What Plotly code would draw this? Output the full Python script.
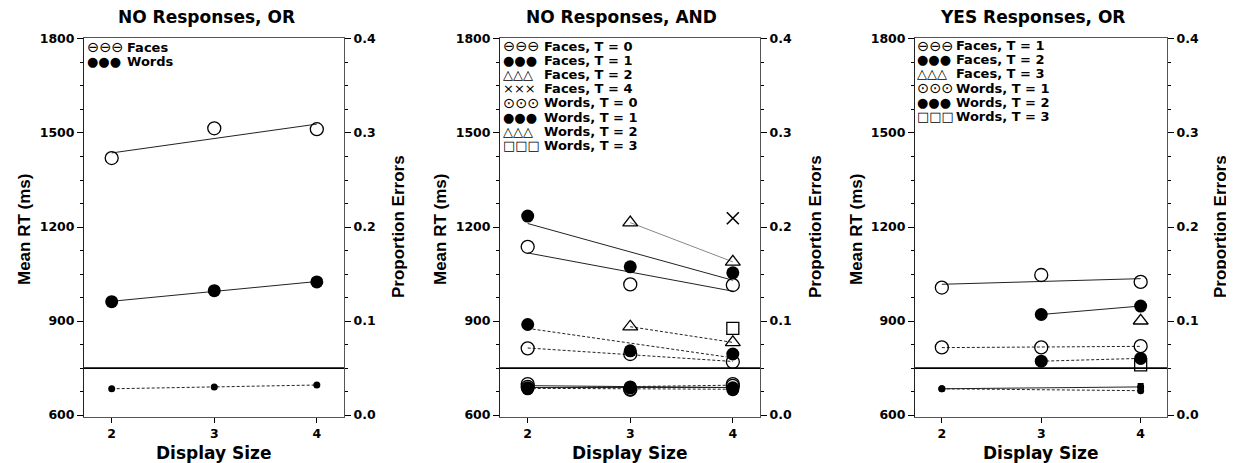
import numpy as np
import plotly.graph_objects as go

FONT = "DejaVu Sans"
FONT2 = "Liberation Sans"
W, H = 1234, 463          # browser window
OFF = 8                   # default page (body) margin of the html page
W_FIG, H_FIG = W - OFF, H - OFF

# ---------------- data ----------------
panel_titles = ["NO Responses, OR", "NO Responses, AND", "YES Responses, OR"]
x_title = "Display Size"
y_title_left = "Mean RT (ms)"
y_title_right = "Proportion Errors"
x_ticks = [2, 3, 4]
rt_ticks = [600, 900, 1200, 1500, 1800]
err_ticks = [0.0, 0.1, 0.2, 0.3, 0.4]
separator_rt = 750

# Panel 1: NO Responses, OR
p1_faces_x = [2, 3, 4]
p1_faces_rt = [1420, 1515, 1512]
p1_words_x = [2, 3, 4]
p1_words_rt = [962, 997, 1025]
p1_err_x = [2, 3, 4]
p1_err = [0.028, 0.030, 0.032]

# Panel 2: NO Responses, AND
p2_faces_t0_x = [2, 3, 4]
p2_faces_t0_rt = [1137, 1017, 1015]
p2_faces_t1_x = [2, 3, 4]
p2_faces_t1_rt = [1235, 1073, 1054]
p2_faces_t2_x = [3, 4]
p2_faces_t2_rt = [1214, 1089]
p2_faces_t4_x = [4]
p2_faces_t4_rt = [1228]
p2_words_t0_x = [2, 3, 4]
p2_words_t0_rt = [813, 795, 770]
p2_words_t1_x = [2, 3, 4]
p2_words_t1_rt = [889, 805, 795]
p2_words_t2_x = [3, 4]
p2_words_t2_rt = [882, 832]
p2_words_t3_x = [4]
p2_words_t3_rt = [877]
p2_faces_t0_err = [0.033, 0.027, 0.031]
p2_faces_t1_err = [0.029, 0.030, 0.029]
p2_words_t0_err = [0.030, 0.028, 0.033]
p2_words_t1_err = [0.028, 0.029, 0.027]

# Panel 3: YES Responses, OR
p3_faces_t1_x = [2, 3, 4]
p3_faces_t1_rt = [1007, 1047, 1025]
p3_faces_t2_x = [3, 4]
p3_faces_t2_rt = [921, 948]
p3_faces_t3_x = [4]
p3_faces_t3_rt = [901]
p3_words_t1_x = [2, 3, 4]
p3_words_t1_rt = [816, 816, 820]
p3_words_t2_x = [3, 4]
p3_words_t2_rt = [772, 781]
p3_words_t3_x = [4]
p3_words_t3_rt = [760]
p3_faces_err_x = [2, 4]
p3_faces_err = [0.028, 0.030]
p3_words_err_x = [2, 4]
p3_words_err = [0.028, 0.026]
p3_words_t3_err_x = [4]
p3_words_t3_err = [0.031]

# legend rows (symbol glyphs + labels)
legend_rows = [
    [("⊖⊖⊖", "Faces"), ("●●●", "Words")],
    [("⊖⊖⊖", "Faces, T = 0"), ("●●●", "Faces, T = 1"), ("△△△", "Faces, T = 2"),
     ("×××", "Faces, T = 4"), ("⊙⊙⊙", "Words, T = 0"), ("●●●", "Words, T = 1"),
     ("△△△", "Words, T = 2"), ("□□□", "Words, T = 3")],
    [("⊖⊖⊖", "Faces, T = 1"), ("●●●", "Faces, T = 2"), ("△△△", "Faces, T = 3"),
     ("⊙⊙⊙", "Words, T = 1"), ("●●●", "Words, T = 2"), ("□□□", "Words, T = 3")],
]
glyph_size = {"⊖": 14.5, "⊙": 14.5, "●": 13, "△": 13, "×": 13, "□": 13}

# ---------------- layout geometry (page pixels) ----------------
panel_px = [(84, 344), (500, 760), (915, 1167)]
plot_top_px, plot_bot_px = 38, 417
x_range = [1.73, 4.265]
rt_range = [594, 1803]
# right axis: 0.0 <-> 600 ms, 0.4 <-> 1800 ms
err_range = [(rt_range[0] - 600) / 3000, (rt_range[1] - 600) / 3000]

title_cx = [206, 622, 1032]
ytl_cx = [24, 440, 856]
ytr_cx = [398, 815, 1220]
legend_sym_x = [86, 502, 916]
legend_txt_x = [126, 543, 955]
legend_top = [47, 46, 45.5]
legend_step = 14.2


def fx(px):
    return (px - OFF) / W_FIG


def fy(py):
    return 1 - (py - OFF) / H_FIG


STY = {
    "open": dict(symbol="circle-open", size=13, color="black", line=dict(width=1.3, color="black")),
    "filled": dict(symbol="circle", size=13, color="black"),
    "tri": dict(symbol="triangle-up-open", size=13, color="black", line=dict(width=1.3, color="black")),
    "x": dict(symbol="x-thin-open", size=12, color="black", line=dict(width=1.6, color="black")),
    "square": dict(symbol="square-open", size=12, color="black", line=dict(width=1.3, color="black")),
    "small": dict(symbol="circle", size=7, color="black"),
    "smallsq": dict(symbol="square", size=6, color="black"),
}
LINES = {
    "solid": dict(color="#222", width=1),
    "gray": dict(color="#888", width=1),
    "dash": dict(color="#222", width=1, dash="3px,2px"),
}

# (panel, x, y, axis, marker style, line style)
series = [
    (0, p1_faces_x, p1_faces_rt, "rt", "open", "solid"),
    (0, p1_words_x, p1_words_rt, "rt", "filled", "solid"),
    (0, p1_err_x, p1_err, "err", "small", "dash"),

    (1, p2_faces_t0_x, p2_faces_t0_rt, "rt", "open", "solid"),
    (1, p2_faces_t1_x, p2_faces_t1_rt, "rt", "filled", "solid"),
    (1, p2_faces_t2_x, p2_faces_t2_rt, "rt", "tri", "gray"),
    (1, p2_faces_t4_x, p2_faces_t4_rt, "rt", "x", None),
    (1, p2_words_t0_x, p2_words_t0_rt, "rt", "open", "dash"),
    (1, p2_words_t1_x, p2_words_t1_rt, "rt", "filled", "dash"),
    (1, p2_words_t2_x, p2_words_t2_rt, "rt", "tri", "dash"),
    (1, p2_words_t3_x, p2_words_t3_rt, "rt", "square", None),
    (1, p2_faces_t0_x, p2_faces_t0_err, "err", "open", "solid"),
    (1, p2_faces_t1_x, p2_faces_t1_err, "err", "filled", "solid"),
    (1, p2_words_t0_x, p2_words_t0_err, "err", "open", "dash"),
    (1, p2_words_t1_x, p2_words_t1_err, "err", "filled", "dash"),

    (2, p3_faces_t1_x, p3_faces_t1_rt, "rt", "open", "solid"),
    (2, p3_faces_t2_x, p3_faces_t2_rt, "rt", "filled", "solid"),
    (2, p3_faces_t3_x, p3_faces_t3_rt, "rt", "tri", None),
    (2, p3_words_t1_x, p3_words_t1_rt, "rt", "open", "dash"),
    (2, p3_words_t2_x, p3_words_t2_rt, "rt", "filled", "dash"),
    (2, p3_words_t3_x, p3_words_t3_rt, "rt", "square", None),
    (2, p3_faces_err_x, p3_faces_err, "err", "small", "solid"),
    (2, p3_words_err_x, p3_words_err, "err", "small", "dash"),
    (2, p3_words_t3_err_x, p3_words_t3_err, "err", "smallsq", None),
]

fig = go.Figure()


def axis_names(panel, axis):
    xa = "x" if panel == 0 else f"x{panel + 1}"
    yi = 2 * panel + (1 if axis == "rt" else 2)
    ya = "y" if yi == 1 else f"y{yi}"
    return xa, ya


# fitted lines (least squares through each series' points)
for panel, xs, ys, axis, mk, ln in series:
    xa, ya = axis_names(panel, axis)
    if ln is not None and len(xs) >= 2:
        coef = np.polyfit(xs, ys, 1)
        xe = [min(xs), max(xs)]
        fig.add_trace(go.Scatter(x=xe, y=np.polyval(coef, xe), mode="lines",
                                 line=LINES[ln], xaxis=xa, yaxis=ya,
                                 showlegend=False, hoverinfo="skip"))
for panel, xs, ys, axis, mk, ln in series:
    xa, ya = axis_names(panel, axis)
    fig.add_trace(go.Scatter(x=xs, y=ys, mode="markers", marker=STY[mk],
                             xaxis=xa, yaxis=ya, showlegend=False))

ydom = [fy(plot_bot_px), fy(plot_top_px)]
tickfont = dict(family=FONT, size=12.5, color="black", weight="bold")
layout = dict(
    width=W_FIG, height=H_FIG, margin=dict(l=0, r=0, t=0, b=0, autoexpand=False),
    paper_bgcolor="white", plot_bgcolor="white", showlegend=False,
    font=dict(family=FONT, color="black"),
)
annotations = []
shapes = []
for p in range(3):
    sfx = "" if p == 0 else str(p + 1)
    yl = "" if p == 0 else str(2 * p + 1)
    yr = str(2 * p + 2)
    x0, x1 = panel_px[p]
    layout["xaxis" + sfx] = dict(
        domain=[fx(x0), fx(x1)], range=x_range, tickvals=x_ticks, automargin=False,
        ticks="outside", ticklen=5, tickcolor="black", showline=True, mirror=True,
        linecolor="#555", linewidth=1, showgrid=False, zeroline=False,
        anchor="y" + yl, tickfont=tickfont, fixedrange=True)
    layout["yaxis" + yl] = dict(
        domain=ydom, range=rt_range, tickvals=rt_ticks, automargin=False,
        ticks="outside", ticklen=6, tickcolor="black", showline=True,
        linecolor="#222", linewidth=1, showgrid=False, zeroline=False,
        minor=dict(dtick=75, tick0=600, ticks="outside", ticklen=3, tickcolor="black"),
        anchor="x" + sfx, tickfont=tickfont, fixedrange=True)
    layout["yaxis" + yr] = dict(
        domain=ydom, range=err_range, tickvals=err_ticks, tickformat=".1f",
        overlaying="y" + yl, side="right", automargin=False,
        ticks="outside", ticklen=6, tickcolor="black", showline=True,
        linecolor="#555", linewidth=1, showgrid=False, zeroline=False,
        minor=dict(dtick=0.025, tick0=0, ticks="outside", ticklen=3, tickcolor="black"),
        anchor="x" + sfx, tickfont=tickfont, fixedrange=True)
    shapes.append(dict(type="line", xref=f"x{sfx} domain", x0=0, x1=1,
                       yref="y" + yl, y0=separator_rt, y1=separator_rt,
                       line=dict(color="black", width=1.6)))
    annotations.append(dict(text=panel_titles[p], xref="paper", yref="paper",
                            x=fx(title_cx[p]), y=fy(17), showarrow=False,
                            xanchor="center", yanchor="middle",
                            font=dict(family=FONT, size=17, color="black", weight="bold")))
    annotations.append(dict(text=x_title, xref="paper", yref="paper",
                            x=fx((x0 + x1) / 2), y=fy(453), showarrow=False,
                            xanchor="center", yanchor="middle",
                            font=dict(family=FONT, size=17, color="black", weight="bold")))
    annotations.append(dict(text=y_title_left, xref="paper", yref="paper",
                            x=fx(ytl_cx[p]), y=fy(230), showarrow=False, textangle=-90,
                            xanchor="center", yanchor="middle",
                            font=dict(family=FONT2, size=17, color="black", weight="bold")))
    annotations.append(dict(text=y_title_right, xref="paper", yref="paper",
                            x=fx(ytr_cx[p]), y=fy(227), showarrow=False, textangle=-90,
                            xanchor="center", yanchor="middle",
                            font=dict(family=FONT2, size=17, color="black", weight="bold")))
    for i, (sym, lab) in enumerate(legend_rows[p]):
        cy = legend_top[p] + i * legend_step
        annotations.append(dict(text=sym, xref="paper", yref="paper",
                                x=fx(legend_sym_x[p]), y=fy(cy), showarrow=False,
                                xanchor="left", yanchor="middle", borderpad=0,
                                font=dict(family=FONT, size=glyph_size[sym[0]], color="black")))
        annotations.append(dict(text=lab, xref="paper", yref="paper",
                                x=fx(legend_txt_x[p]), y=fy(cy), showarrow=False,
                                xanchor="left", yanchor="middle", borderpad=0,
                                font=dict(family=FONT, size=13, color="black", weight="bold")))

layout["annotations"] = annotations
layout["shapes"] = shapes
fig.update_layout(**layout)
fig.write_html("out.html")
